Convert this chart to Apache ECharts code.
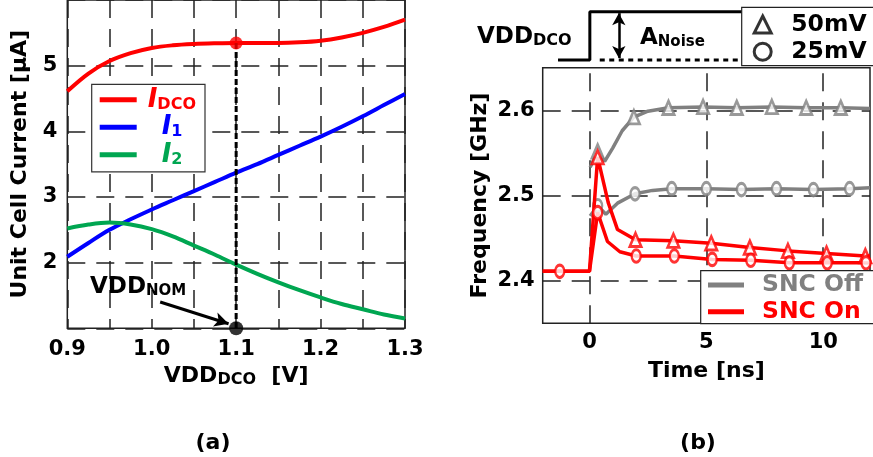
<!DOCTYPE html>
<html><head><meta charset="utf-8">
<script src="https://cdn.jsdelivr.net/npm/echarts@6/dist/echarts.min.js"></script>
<style>html,body{margin:0;padding:0;background:#fff}#c{width:873px;height:457px}</style>
</head><body><div id="c"></div>
<script>
// ---------- (a) unit cell current vs VDD_DCO ----------
const vdd  = [0.90,0.925,0.95,0.975,1.00,1.025,1.05,1.075,1.10,1.125,1.15,1.175,1.20,1.225,1.25,1.275,1.30];
const iDco = [4.61,4.88,5.07,5.19,5.27,5.31,5.33,5.34,5.345,5.345,5.345,5.355,5.38,5.43,5.50,5.59,5.70];
const i1   = [2.09,2.30,2.50,2.66,2.81,2.95,3.09,3.23,3.37,3.50,3.64,3.78,3.92,4.07,4.23,4.40,4.57];
const i2   = [2.52,2.58,2.61,2.58,2.51,2.40,2.26,2.12,1.97,1.83,1.70,1.58,1.47,1.37,1.29,1.21,1.15];
const vddNom = 1.1;
const iDcoNom = 5.345;
const yMinA = 1, yMaxA = 6;
const xTicksA = [0.9, 1.0, 1.1, 1.2, 1.3];
const yTicksA = [2, 3, 4, 5];
const arrowFrom = [1.010, 1.40];
const arrowTo   = [1.091, 1.07];

// ---------- (b) frequency vs time ----------
const tOff50 = [0.03, 0.35, 0.65, 1.0, 1.4, 1.9, 2.5, 3.38, 4.86, 6.3, 7.8, 9.27, 10.75, 12];
const fOff50 = [2.533, 2.552, 2.540, 2.556, 2.576, 2.592, 2.599, 2.603, 2.604, 2.603, 2.604, 2.603, 2.603, 2.602];
const mkOff50T = [0.35, 1.9, 3.38, 4.86, 6.3, 7.8, 9.27, 10.75];
const mkOff50F = [2.552, 2.592, 2.603, 2.604, 2.603, 2.604, 2.603, 2.603];

const tOff25 = [0.03, 0.35, 0.7, 1.2, 1.95, 2.7, 3.52, 5.0, 6.5, 8.0, 9.58, 11.13, 12];
const fOff25 = [2.476, 2.488, 2.478, 2.491, 2.502, 2.506, 2.508, 2.508, 2.507, 2.508, 2.507, 2.508, 2.509];
const mkOff25T = [0.35, 1.95, 3.52, 5.0, 6.5, 8.0, 9.58, 11.13];
const mkOff25F = [2.488, 2.502, 2.508, 2.508, 2.507, 2.508, 2.507, 2.508];

const tOn50 = [-2, 0, 0.35, 0.8, 1.2, 1.97, 3.59, 5.21, 6.86, 8.49, 10.14, 11.8, 12];
const fOn50 = [2.411, 2.411, 2.545, 2.492, 2.460, 2.448, 2.447, 2.444, 2.439, 2.435, 2.432, 2.429, 2.429];
const mkOn50T = [0.35, 1.97, 3.59, 5.21, 6.86, 8.49, 10.14, 11.8];
const mkOn50F = [2.545, 2.448, 2.447, 2.444, 2.439, 2.435, 2.432, 2.429];

const tOn25 = [-2, 0, 0.35, 0.77, 1.3, 2.0, 3.63, 5.25, 6.9, 8.55, 10.17, 11.83, 12];
const fOn25 = [2.411, 2.411, 2.480, 2.446, 2.434, 2.429, 2.429, 2.425, 2.424, 2.421, 2.421, 2.421, 2.421];
const mkOn25T = [-1.27, 0.35, 2.0, 3.63, 5.25, 6.9, 8.55, 10.17, 11.83];
const mkOn25F = [2.411, 2.480, 2.429, 2.429, 2.425, 2.424, 2.421, 2.421, 2.421];

const xMinB = -2, xMaxB = 12;
const yMinB = 2.35, yMaxB = 2.65;
const xTicksB = [0, 5, 10];
const yTicksB = [2.4, 2.5, 2.6];

// VDD_DCO step sketch (time axis shared with (b))
const stepT = [-1.35, 0, 0, 7.0];
const stepV = [0, 0, 1, 1];
const baseT = [0.42, 6.3];
const baseV = [0, 0];
const noiseArrowT = 1.23;

// ---------- styling ----------
const FONT = '"DejaVu Sans", "Liberation Sans", sans-serif';
const BLACK = '#000', GRIDC = '#222';
const RED = '#ff0000', BLUE = '#0000ff', GREEN = '#00a651', GREY = '#808080';
const ELLIPSE = 'path://M0,-10A10,10 0 1 1 0,10A10,10 0 1 1 0,-10Z';
const TRI_SIZE = [11.5, 13.5], ELL_SIZE = [9, 12.5], MK_BW = 2.7;
const zip = (a, b) => a.map((v, i) => [v, b[i]]);
const near = (list, v) => list.some(t => Math.abs(t - v) < 1e-6);
const tb = (size, color, extra) => Object.assign({fontSize: size, fontWeight: 'bold', fontFamily: FONT, color: color}, extra || {});
const dashGrid = {color: GRIDC, width: 1.5, type: [18, 11]};

const chart = echarts.init(document.getElementById('c'), null, {renderer: 'canvas'});

const subRich = (color, big, small, bigLH, smallLH) => ({
  b: tb(big, color, {lineHeight: bigLH}),
  s: tb(small, color, {lineHeight: smallLH, verticalAlign: 'bottom'})
});

const option = {
  animation: false,
  backgroundColor: '#fff',
  textStyle: {fontFamily: FONT},
  grid: [
    {left: 67.3, top: 0, width: 337.7, height: 328.3, show: true, borderColor: GRIDC, borderWidth: 1.5},
    {left: 542.7, top: 67.7, width: 330, height: 255.6, show: true, borderColor: GRIDC, borderWidth: 1.5},
    {left: 542.7, top: 11.7, width: 330, height: 48.3, show: false}
  ],
  xAxis: [
    {type: 'value', gridIndex: 0, min: 0.9, max: 1.3, interval: 0.05,
     axisLine: {show: false}, axisTick: {show: false},
     splitLine: {show: true, lineStyle: dashGrid},
     axisLabel: Object.assign(tb(21, BLACK), {margin: 11, formatter: v => near(xTicksA, v) ? v.toFixed(1) : ''}),
     name: '{b|VDD}{s|DCO}{b|  [V]}', nameLocation: 'middle', nameGap: 35,
     nameTextStyle: Object.assign(tb(22, BLACK), {rich: subRich(BLACK, 22, 16, 24, 12)})},
    {type: 'value', gridIndex: 1, min: xMinB, max: xMaxB, interval: 1,
     axisLine: {show: false}, axisTick: {show: false}, splitLine: {show: false},
     axisLabel: Object.assign(tb(21, BLACK), {margin: 9, formatter: v => near(xTicksB, v) ? String(v) : ''}),
     name: 'Time [ns]', nameLocation: 'middle', nameGap: 37, nameTextStyle: tb(22, BLACK)},
    {type: 'value', gridIndex: 2, min: xMinB, max: xMaxB, show: false}
  ],
  yAxis: [
    {type: 'value', gridIndex: 0, min: yMinA, max: yMaxA, interval: 1,
     axisLine: {show: false}, axisTick: {show: false},
     splitLine: {show: true, lineStyle: dashGrid},
     axisLabel: Object.assign(tb(21, BLACK), {margin: 10, formatter: v => near(yTicksA, v) ? String(v) : ''}),
     name: 'Unit Cell Current [μA]', nameLocation: 'middle', nameRotate: 90, nameGap: 36,
     nameTextStyle: tb(22, BLACK)},
    {type: 'value', gridIndex: 1, min: yMinB, max: yMaxB, interval: 0.05,
     axisLine: {show: false}, axisTick: {show: false}, splitLine: {show: false},
     axisLabel: Object.assign(tb(21, BLACK), {margin: 8, formatter: v => near(yTicksB, v) ? v.toFixed(1) : ''}),
     name: 'Frequency [GHz]', nameLocation: 'middle', nameRotate: 90, nameGap: 51,
     nameTextStyle: tb(22, BLACK)},
    {type: 'value', gridIndex: 2, min: 0, max: 1, show: false}
  ],
  legend: [
    {data: ['IDCO', 'I1', 'I2'], orient: 'vertical', left: 91.7, top: 84.3, z: 10,
     icon: 'rect', itemWidth: 37, itemHeight: 5, itemGap: 1.5, selectedMode: false,
     padding: [2.5, 9, 4, 8], backgroundColor: '#fff', borderColor: '#333', borderWidth: 1.2,
     formatter: n => ({IDCO: '{p0|}{iR|I}{sR|DCO}', I1: '{p1|}{iB|I}{sB|1}', I2: '{p1|}{iG|I}{sG|2}'})[n],
     textStyle: {rich: {
       p0: {width: 6}, p1: {width: 20},
       iR: tb(26, RED, {fontStyle: 'italic', lineHeight: 26}), sR: tb(16, RED, {lineHeight: 12, verticalAlign: 'bottom'}),
       iB: tb(26, BLUE, {fontStyle: 'italic', lineHeight: 26}), sB: tb(16, BLUE, {lineHeight: 12, verticalAlign: 'bottom'}),
       iG: tb(26, GREEN, {fontStyle: 'italic', lineHeight: 26}), sG: tb(16, GREEN, {lineHeight: 12, verticalAlign: 'bottom'})
     }}},
    {data: ['SNC Off', 'SNC On'], orient: 'vertical', left: 700.7, top: 270.7, z: 10,
     icon: 'rect', itemWidth: 36, itemHeight: 5, itemGap: 2.7, selectedMode: false,
     padding: [2.3, 14, 0, 7.3], backgroundColor: '#fff', borderColor: '#222', borderWidth: 1.2,
     formatter: n => n === 'SNC Off' ? '{p|}{g|SNC Off}' : '{p|}{r|SNC On}',
     textStyle: {rich: {p: {width: 13}, g: tb(23.5, GREY, {lineHeight: 24}), r: tb(23.5, RED, {lineHeight: 24})}}},
    {data: [
       {name: '50mV', icon: 'triangle', itemStyle: {color: '#fff', borderColor: BLACK, borderWidth: 3}},
       {name: '25mV', icon: 'circle', itemStyle: {color: '#fff', borderColor: BLACK, borderWidth: 3}}],
     orient: 'vertical', left: 741.7, top: 7.3, z: 10,
     itemWidth: 17, itemHeight: 17, itemGap: 3.3, selectedMode: false,
     padding: [5.2, 14, 1.8, 11], backgroundColor: '#fff', borderColor: '#222', borderWidth: 1.2,
     formatter: n => '{p|}{t|' + n + '}',
     textStyle: {rich: {p: {width: 15}, t: tb(23.5, BLACK, {lineHeight: 22})}}}
  ],
  series: [
    // ----- (a)
    {name: 'IDCO', type: 'line', xAxisIndex: 0, yAxisIndex: 0, data: zip(vdd, iDco), smooth: 0.35,
     symbol: 'none', color: RED, lineStyle: {width: 4}, z: 2},
    {name: 'I1', type: 'line', xAxisIndex: 0, yAxisIndex: 0, data: zip(vdd, i1), smooth: 0.35,
     symbol: 'none', color: BLUE, lineStyle: {width: 4}, z: 2},
    {name: 'I2', type: 'line', xAxisIndex: 0, yAxisIndex: 0, data: zip(vdd, i2), smooth: 0.35,
     symbol: 'none', color: GREEN, lineStyle: {width: 4}, z: 2},
    {name: 'nominal', type: 'line', xAxisIndex: 0, yAxisIndex: 0, data: [[vddNom, iDcoNom], [vddNom, yMinA]],
     symbol: 'none', color: BLACK, lineStyle: {width: 3, type: [6, 3]}, z: 3, clip: false,
     markLine: {silent: true, symbol: ['none', 'arrow'], symbolSize: [11, 14], z: 6,
       label: {show: false}, lineStyle: {color: BLACK, width: 3, type: 'solid', curveness: -0.08},
       data: [[{coord: arrowFrom}, {coord: arrowTo}]]}},
    {name: 'nomTop', type: 'scatter', xAxisIndex: 0, yAxisIndex: 0, data: [[vddNom, iDcoNom]],
     symbol: 'circle', symbolSize: 13, itemStyle: {color: RED}, z: 4, clip: false},
    {name: 'nomBot', type: 'scatter', xAxisIndex: 0, yAxisIndex: 0, data: [[vddNom, yMinA]],
     symbol: 'circle', symbolSize: 14, itemStyle: {color: BLACK}, z: 4, clip: false},
    // ----- (b)
    {name: 'SNC Off', type: 'line', xAxisIndex: 1, yAxisIndex: 1, data: zip(tOff50, fOff50),
     symbol: 'none', color: GREY, lineStyle: {width: 3.5}, z: 2,
     markLine: {silent: true, symbol: 'none', z: 1, label: {show: false}, lineStyle: dashGrid,
       data: xTicksB.map(v => ({xAxis: v})).concat(yTicksB.map(v => ({yAxis: v})))}},
    {name: 'SNC Off', type: 'line', xAxisIndex: 1, yAxisIndex: 1, data: zip(tOff25, fOff25),
     symbol: 'none', color: GREY, lineStyle: {width: 3.5}, z: 2},
    {name: '50mV', type: 'scatter', xAxisIndex: 1, yAxisIndex: 1, data: zip(mkOff50T, mkOff50F),
     symbol: 'triangle', symbolSize: TRI_SIZE, itemStyle: {color: '#fff', borderColor: GREY, borderWidth: MK_BW}, z: 3},
    {name: '25mV', type: 'scatter', xAxisIndex: 1, yAxisIndex: 1, data: zip(mkOff25T, mkOff25F),
     symbol: ELLIPSE, symbolSize: ELL_SIZE, itemStyle: {color: '#fff', borderColor: GREY, borderWidth: MK_BW}, z: 3},
    {name: 'SNC On', type: 'line', xAxisIndex: 1, yAxisIndex: 1, data: zip(tOn50, fOn50),
     symbol: 'none', color: RED, lineStyle: {width: 3.5}, z: 4},
    {name: 'SNC On', type: 'line', xAxisIndex: 1, yAxisIndex: 1, data: zip(tOn25, fOn25),
     symbol: 'none', color: RED, lineStyle: {width: 3.5}, z: 4},
    {name: '50mV', type: 'scatter', xAxisIndex: 1, yAxisIndex: 1, data: zip(mkOn50T, mkOn50F),
     symbol: 'triangle', symbolSize: TRI_SIZE, itemStyle: {color: '#fff', borderColor: RED, borderWidth: MK_BW}, z: 5, clip: false},
    {name: '25mV', type: 'scatter', xAxisIndex: 1, yAxisIndex: 1, data: zip(mkOn25T, mkOn25F),
     symbol: ELLIPSE, symbolSize: ELL_SIZE, itemStyle: {color: '#fff', borderColor: RED, borderWidth: MK_BW}, z: 5, clip: false},
    // ----- VDD_DCO step sketch
    {name: 'step', type: 'line', xAxisIndex: 2, yAxisIndex: 2, data: zip(stepT, stepV),
     symbol: 'none', color: BLACK, lineStyle: {width: 3}, clip: false, z: 2},
    {name: 'base', type: 'line', xAxisIndex: 2, yAxisIndex: 2, data: zip(baseT, baseV),
     symbol: 'none', color: BLACK, lineStyle: {width: 3, type: [5, 4.5]}, clip: false, z: 2,
     markLine: {silent: true, symbol: ['arrow', 'arrow'], symbolSize: [10, 12], z: 3,
       label: {show: false}, lineStyle: {color: BLACK, width: 2.5, type: 'solid'},
       data: [[{coord: [noiseArrowT, 0.04]}, {coord: [noiseArrowT, 0.97]}]]}}
  ],
  graphic: [
    {type: 'text', x: 90, y: 287, z: 20, style: {text: '{b|VDD}{s|NOM}', verticalAlign: 'middle',
      rich: subRich(BLACK, 23, 15, 24, 12)}},
    {type: 'text', x: 477, y: 37, z: 20, style: {text: '{b|VDD}{s|DCO}', verticalAlign: 'middle',
      rich: subRich(BLACK, 23, 16, 24, 12)}},
    {type: 'text', x: 640, y: 38, z: 20, style: {text: '{b|A}{s|Noise}', verticalAlign: 'middle',
      rich: subRich(BLACK, 23, 15, 24, 12)}},
    {type: 'text', x: 213, y: 443, z: 20, style: {text: '(a)', align: 'center', verticalAlign: 'middle',
      font: 'bold 22px ' + FONT, fill: BLACK}},
    {type: 'text', x: 698, y: 443, z: 20, style: {text: '(b)', align: 'center', verticalAlign: 'middle',
      font: 'bold 22px ' + FONT, fill: BLACK}}
  ]
};
chart.setOption(option);
</script></body></html>
